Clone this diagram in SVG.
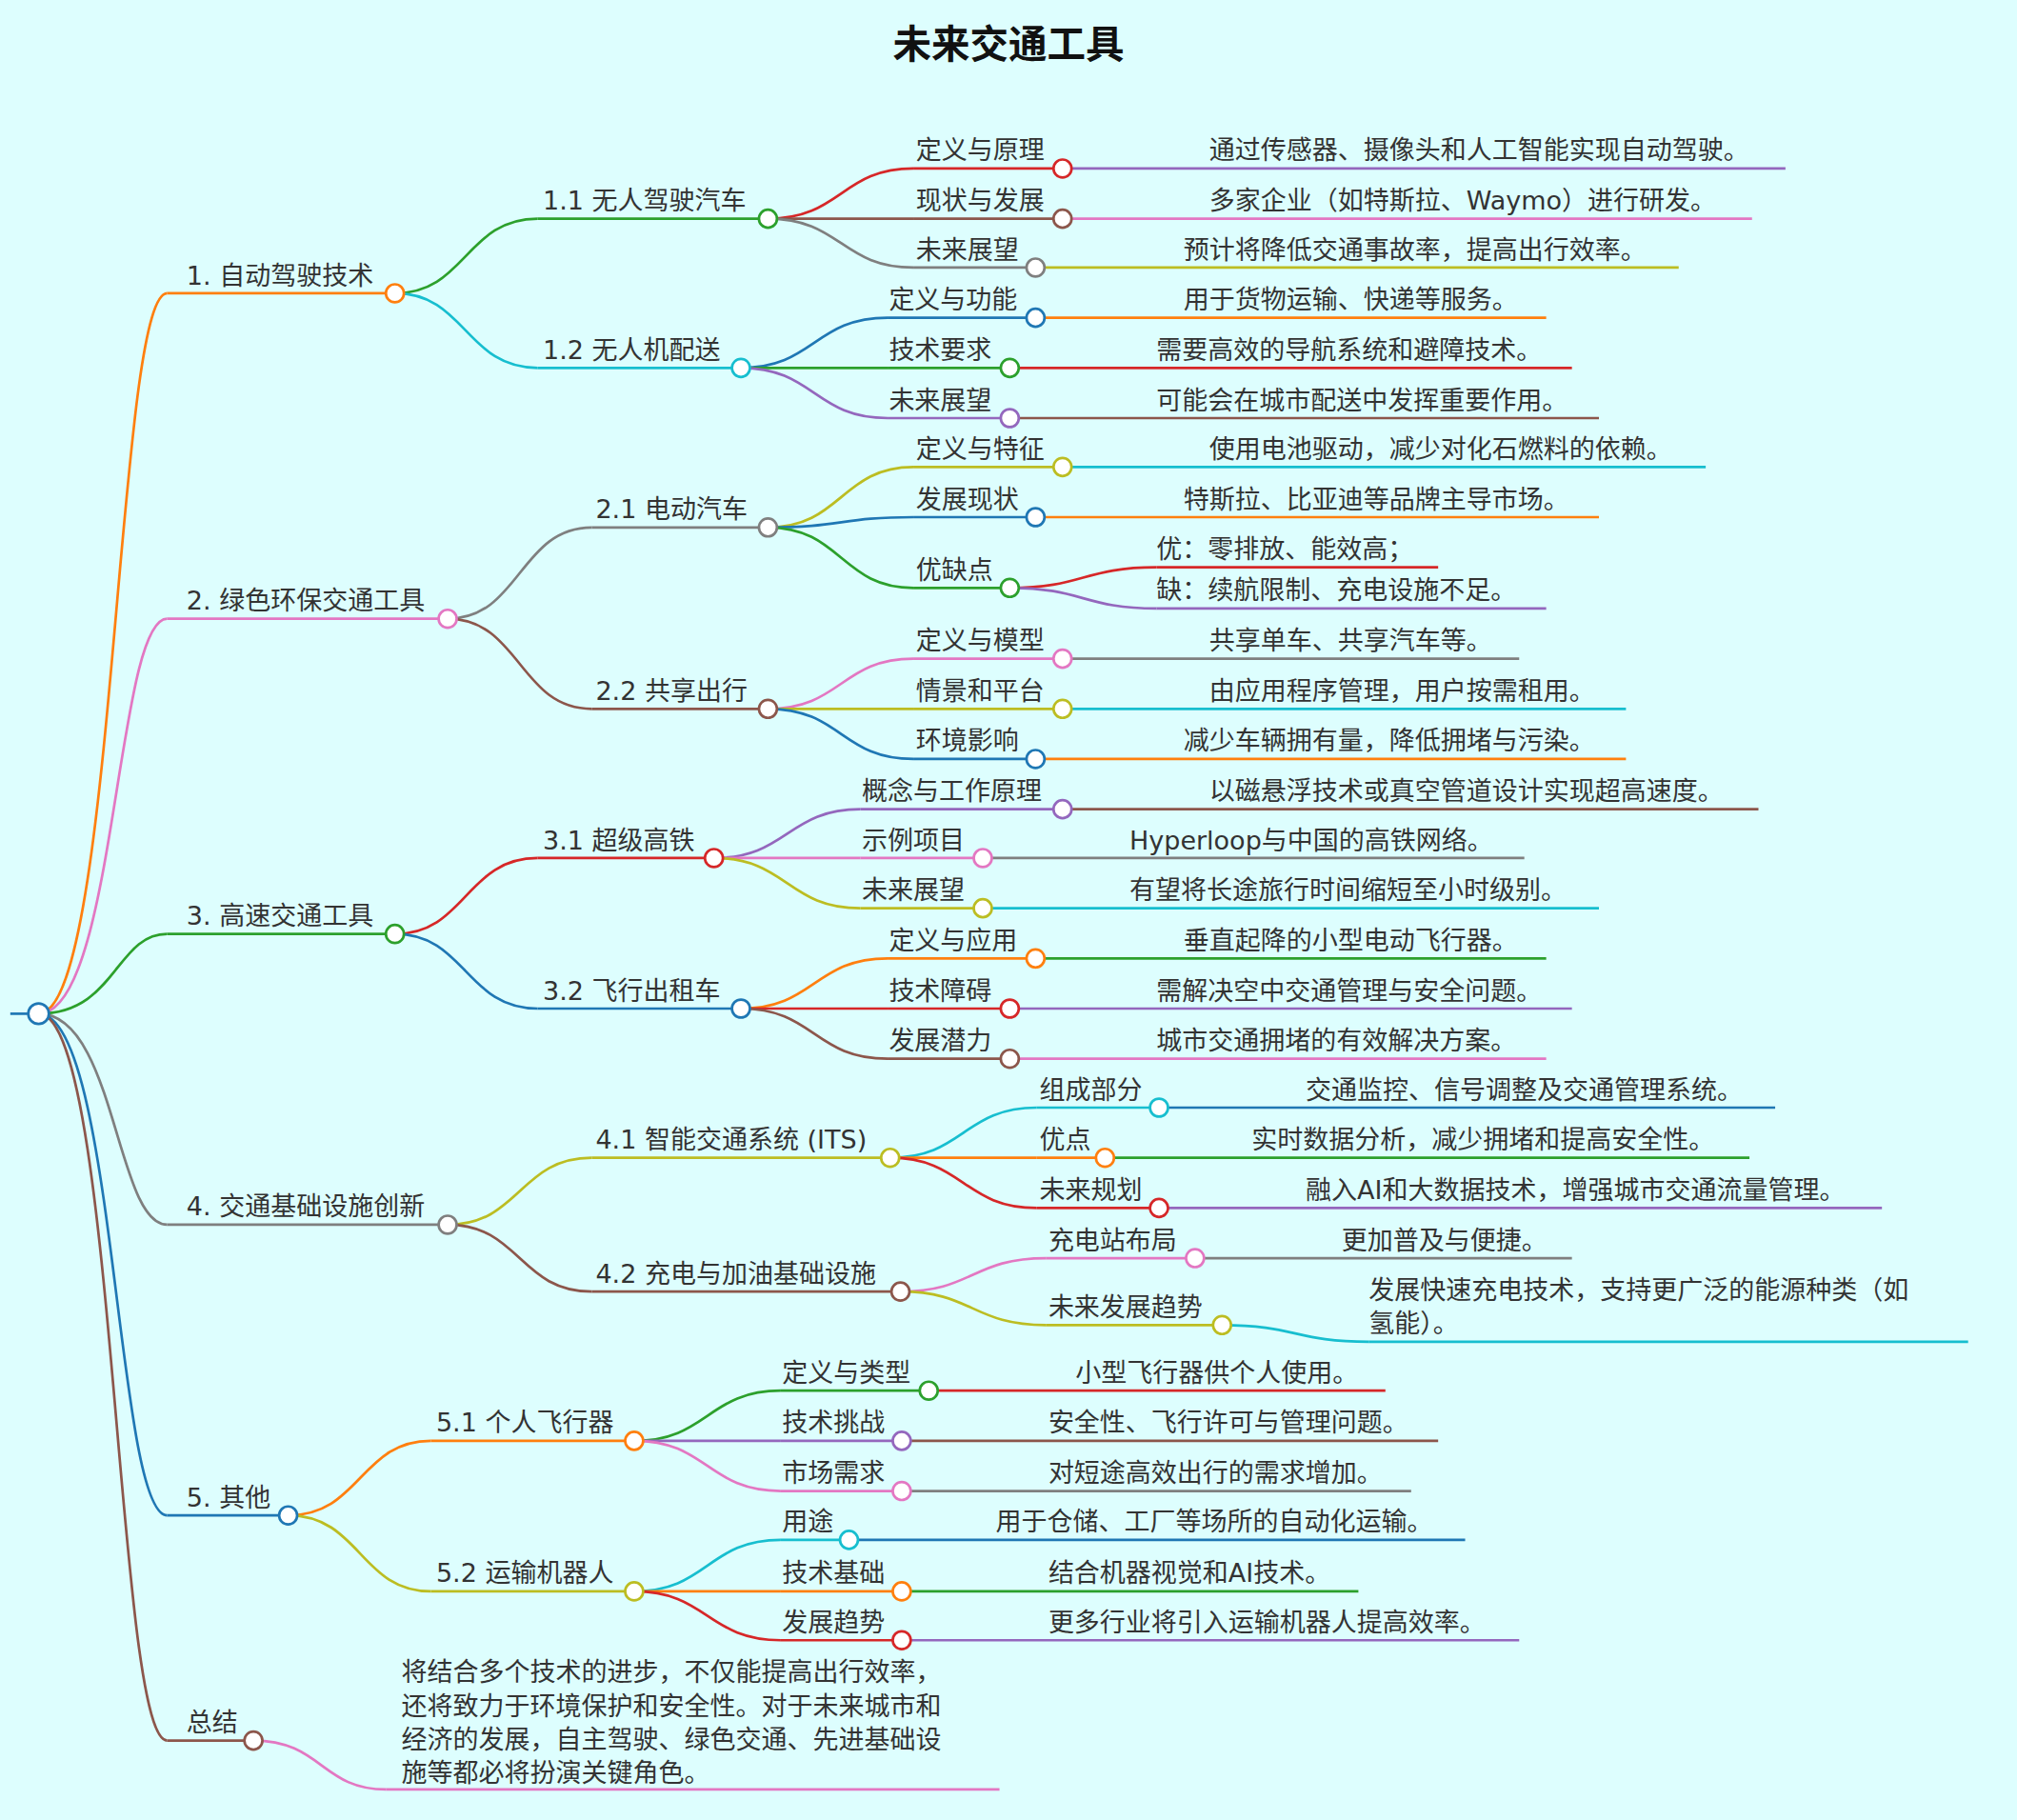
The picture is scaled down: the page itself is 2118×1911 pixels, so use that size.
<svg xmlns="http://www.w3.org/2000/svg" width="2118" height="1911" viewBox="0 0 2118 1911">
<style>
text{font-family:"DejaVu Sans","Noto Sans CJK SC",sans-serif;font-size:20px;fill:#333}
.ti{font-size:30px;font-weight:bold;fill:#111}
.c{fill:#fff;stroke-width:2}
path,line{fill:none;stroke-width:2}
</style>
<rect width="2118" height="1911" fill="#ddfefe"/>
<g transform="scale(1.35077)">
<text class="ti" x="784" y="45" text-anchor="middle">未来交通工具</text>
<g id="connectors">
<line x1="8" y1="788" x2="30" y2="788" stroke="#1f77b4"/>
<path d="M30 788 C90 788 90 228 130 228" stroke="#ff7f0e"/>
<path d="M30 788 C90 788 90 481 130 481" stroke="#e377c2"/>
<path d="M30 788 C90 788 90 726 130 726" stroke="#2ca02c"/>
<path d="M30 788 C90 788 90 952 130 952" stroke="#7f7f7f"/>
<path d="M30 788 C90 788 90 1178 130 1178" stroke="#1f77b4"/>
<path d="M30 788 C90 788 90 1353 130 1353" stroke="#8c564b"/>
<path d="M307 228 C362 228 362 170 418 170" stroke="#2ca02c"/>
<path d="M307 228 C362 228 362 286 418 286" stroke="#17becf"/>
<path d="M348 481 C404 481 404 410 460 410" stroke="#7f7f7f"/>
<path d="M348 481 C404 481 404 551 460 551" stroke="#8c564b"/>
<path d="M307 726 C362 726 362 667 418 667" stroke="#d62728"/>
<path d="M307 726 C362 726 362 784 418 784" stroke="#1f77b4"/>
<path d="M348 952 C404 952 404 900 460 900" stroke="#bcbd22"/>
<path d="M348 952 C404 952 404 1004 460 1004" stroke="#8c564b"/>
<path d="M224 1178 C280 1178 280 1120 335 1120" stroke="#ff7f0e"/>
<path d="M224 1178 C280 1178 280 1237 335 1237" stroke="#bcbd22"/>
<path d="M197 1353 C250 1353 250 1391 300 1391" stroke="#e377c2"/>
<path d="M597 170 C654 170 654 131 710 131" stroke="#d62728"/>
<path d="M597 170 L710 170" stroke="#8c564b"/>
<path d="M597 170 C654 170 654 208 710 208" stroke="#7f7f7f"/>
<path d="M576 286 C633 286 633 247 690 247" stroke="#1f77b4"/>
<path d="M576 286 L690 286" stroke="#2ca02c"/>
<path d="M576 286 C633 286 633 325 690 325" stroke="#9467bd"/>
<path d="M597 410 C654 410 654 363 710 363" stroke="#bcbd22"/>
<path d="M597 410 C654 410 654 402 710 402" stroke="#1f77b4"/>
<path d="M597 410 C654 410 654 457 710 457" stroke="#2ca02c"/>
<path d="M597 551 C654 551 654 512 710 512" stroke="#e377c2"/>
<path d="M597 551 L710 551" stroke="#bcbd22"/>
<path d="M597 551 C654 551 654 590 710 590" stroke="#1f77b4"/>
<path d="M555 667 C612 667 612 629 669 629" stroke="#9467bd"/>
<path d="M555 667 L669 667" stroke="#e377c2"/>
<path d="M555 667 C612 667 612 706 669 706" stroke="#bcbd22"/>
<path d="M576 784 C633 784 633 745 690 745" stroke="#ff7f0e"/>
<path d="M576 784 L690 784" stroke="#d62728"/>
<path d="M576 784 C633 784 633 823 690 823" stroke="#8c564b"/>
<path d="M692 900 C749 900 749 861 806 861" stroke="#17becf"/>
<path d="M692 900 L806 900" stroke="#ff7f0e"/>
<path d="M692 900 C749 900 749 939 806 939" stroke="#d62728"/>
<path d="M700 1004 C756 1004 756 978 813 978" stroke="#e377c2"/>
<path d="M700 1004 C756 1004 756 1030 813 1030" stroke="#bcbd22"/>
<path d="M493 1120 C550 1120 550 1081 607 1081" stroke="#2ca02c"/>
<path d="M493 1120 L607 1120" stroke="#9467bd"/>
<path d="M493 1120 C550 1120 550 1159 607 1159" stroke="#e377c2"/>
<path d="M493 1237 C550 1237 550 1197 607 1197" stroke="#17becf"/>
<path d="M493 1237 L607 1237" stroke="#ff7f0e"/>
<path d="M493 1237 C550 1237 550 1275 607 1275" stroke="#d62728"/>
<path d="M785 457 C842 457 842 441 899 441" stroke="#d62728"/>
<path d="M785 457 C842 457 842 473 899 473" stroke="#9467bd"/>
<path d="M950 1030 C1007 1030 1007 1043 1064 1043" stroke="#17becf"/>
</g>
<g id="n1"><line x1="130" y1="228" x2="307" y2="228" stroke="#ff7f0e"/><text x="145" y="221">1. 自动驾驶技术</text><circle class="c" cx="307" cy="228" r="7" stroke="#ff7f0e"/></g>
<g id="n2"><line x1="130" y1="481" x2="348" y2="481" stroke="#e377c2"/><text x="145" y="474">2. 绿色环保交通工具</text><circle class="c" cx="348" cy="481" r="7" stroke="#e377c2"/></g>
<g id="n3"><line x1="130" y1="726" x2="307" y2="726" stroke="#2ca02c"/><text x="145" y="719">3. 高速交通工具</text><circle class="c" cx="307" cy="726" r="7" stroke="#2ca02c"/></g>
<g id="n4"><line x1="130" y1="952" x2="348" y2="952" stroke="#7f7f7f"/><text x="145" y="945">4. 交通基础设施创新</text><circle class="c" cx="348" cy="952" r="7" stroke="#7f7f7f"/></g>
<g id="n5"><line x1="130" y1="1178" x2="224" y2="1178" stroke="#1f77b4"/><text x="145" y="1171">5. 其他</text><circle class="c" cx="224" cy="1178" r="7" stroke="#1f77b4"/></g>
<g id="n6"><line x1="130" y1="1353" x2="197" y2="1353" stroke="#8c564b"/><text x="145" y="1346">总结</text><circle class="c" cx="197" cy="1353" r="7" stroke="#8c564b"/></g>
<g id="n6a"><line x1="300" y1="1391" x2="777" y2="1391" stroke="#e377c2"/>
<text x="312" y="1307">将结合多个技术的进步，不仅能提高出行效率，</text>
<text x="312" y="1333">还将致力于环境保护和安全性。对于未来城市和</text>
<text x="312" y="1359">经济的发展，自主驾驶、绿色交通、先进基础设</text>
<text x="312" y="1385">施等都必将扮演关键角色。</text></g>
<g id="n11"><line x1="418" y1="170" x2="597" y2="170" stroke="#2ca02c"/><text x="422" y="163">1.1 无人驾驶汽车</text><circle class="c" cx="597" cy="170" r="7" stroke="#2ca02c"/></g>
<g id="n12"><line x1="418" y1="286" x2="576" y2="286" stroke="#17becf"/><text x="422" y="279">1.2 无人机配送</text><circle class="c" cx="576" cy="286" r="7" stroke="#17becf"/></g>
<g id="n21"><line x1="460" y1="410" x2="597" y2="410" stroke="#7f7f7f"/><text x="463" y="403">2.1 电动汽车</text><circle class="c" cx="597" cy="410" r="7" stroke="#7f7f7f"/></g>
<g id="n22"><line x1="460" y1="551" x2="597" y2="551" stroke="#8c564b"/><text x="463" y="544">2.2 共享出行</text><circle class="c" cx="597" cy="551" r="7" stroke="#8c564b"/></g>
<g id="n31"><line x1="418" y1="667" x2="555" y2="667" stroke="#d62728"/><text x="422" y="660">3.1 超级高铁</text><circle class="c" cx="555" cy="667" r="7" stroke="#d62728"/></g>
<g id="n32"><line x1="418" y1="784" x2="576" y2="784" stroke="#1f77b4"/><text x="422" y="777">3.2 飞行出租车</text><circle class="c" cx="576" cy="784" r="7" stroke="#1f77b4"/></g>
<g id="n41"><line x1="460" y1="900" x2="692" y2="900" stroke="#bcbd22"/><text x="463" y="893">4.1 智能交通系统 (ITS)</text><circle class="c" cx="692" cy="900" r="7" stroke="#bcbd22"/></g>
<g id="n42"><line x1="460" y1="1004" x2="700" y2="1004" stroke="#8c564b"/><text x="463" y="997">4.2 充电与加油基础设施</text><circle class="c" cx="700" cy="1004" r="7" stroke="#8c564b"/></g>
<g id="n51"><line x1="335" y1="1120" x2="493" y2="1120" stroke="#ff7f0e"/><text x="339" y="1113">5.1 个人飞行器</text><circle class="c" cx="493" cy="1120" r="7" stroke="#ff7f0e"/></g>
<g id="n52"><line x1="335" y1="1237" x2="493" y2="1237" stroke="#bcbd22"/><text x="339" y="1230">5.2 运输机器人</text><circle class="c" cx="493" cy="1237" r="7" stroke="#bcbd22"/></g>
<g id="n111"><line x1="710" y1="131" x2="826" y2="131" stroke="#d62728"/><line x1="826" y1="131" x2="1388" y2="131" stroke="#9467bd"/><text x="712" y="124">定义与原理</text><text x="940" y="124">通过传感器、摄像头和人工智能实现自动驾驶。</text><circle class="c" cx="826" cy="131" r="7" stroke="#d62728"/></g>
<g id="n112"><line x1="710" y1="170" x2="826" y2="170" stroke="#8c564b"/><line x1="826" y1="170" x2="1362" y2="170" stroke="#e377c2"/><text x="712" y="163">现状与发展</text><text x="940" y="163">多家企业（如特斯拉、Waymo）进行研发。</text><circle class="c" cx="826" cy="170" r="7" stroke="#8c564b"/></g>
<g id="n113"><line x1="710" y1="208" x2="805" y2="208" stroke="#7f7f7f"/><line x1="805" y1="208" x2="1305" y2="208" stroke="#bcbd22"/><text x="712" y="201">未来展望</text><text x="920" y="201">预计将降低交通事故率，提高出行效率。</text><circle class="c" cx="805" cy="208" r="7" stroke="#7f7f7f"/></g>
<g id="n121"><line x1="690" y1="247" x2="805" y2="247" stroke="#1f77b4"/><line x1="805" y1="247" x2="1202" y2="247" stroke="#ff7f0e"/><text x="691" y="240">定义与功能</text><text x="920" y="240">用于货物运输、快递等服务。</text><circle class="c" cx="805" cy="247" r="7" stroke="#1f77b4"/></g>
<g id="n122"><line x1="690" y1="286" x2="785" y2="286" stroke="#2ca02c"/><line x1="785" y1="286" x2="1222" y2="286" stroke="#d62728"/><text x="691" y="279">技术要求</text><text x="899" y="279">需要高效的导航系统和避障技术。</text><circle class="c" cx="785" cy="286" r="7" stroke="#2ca02c"/></g>
<g id="n123"><line x1="690" y1="325" x2="785" y2="325" stroke="#9467bd"/><line x1="785" y1="325" x2="1243" y2="325" stroke="#8c564b"/><text x="691" y="318">未来展望</text><text x="899" y="318">可能会在城市配送中发挥重要作用。</text><circle class="c" cx="785" cy="325" r="7" stroke="#9467bd"/></g>
<g id="n211"><line x1="710" y1="363" x2="826" y2="363" stroke="#bcbd22"/><line x1="826" y1="363" x2="1326" y2="363" stroke="#17becf"/><text x="712" y="356">定义与特征</text><text x="940" y="356">使用电池驱动，减少对化石燃料的依赖。</text><circle class="c" cx="826" cy="363" r="7" stroke="#bcbd22"/></g>
<g id="n212"><line x1="710" y1="402" x2="805" y2="402" stroke="#1f77b4"/><line x1="805" y1="402" x2="1243" y2="402" stroke="#ff7f0e"/><text x="712" y="395">发展现状</text><text x="920" y="395">特斯拉、比亚迪等品牌主导市场。</text><circle class="c" cx="805" cy="402" r="7" stroke="#1f77b4"/></g>
<g id="n213"><line x1="710" y1="457" x2="785" y2="457" stroke="#2ca02c"/><text x="712" y="450">优缺点</text><circle class="c" cx="785" cy="457" r="7" stroke="#2ca02c"/></g>
<g id="n213a"><line x1="899" y1="441" x2="1118" y2="441" stroke="#d62728"/><text x="899" y="434">优：零排放、能效高；</text></g>
<g id="n213b"><line x1="899" y1="473" x2="1202" y2="473" stroke="#9467bd"/><text x="899" y="466">缺：续航限制、充电设施不足。</text></g>
<g id="n221"><line x1="710" y1="512" x2="826" y2="512" stroke="#e377c2"/><line x1="826" y1="512" x2="1181" y2="512" stroke="#7f7f7f"/><text x="712" y="505">定义与模型</text><text x="940" y="505">共享单车、共享汽车等。</text><circle class="c" cx="826" cy="512" r="7" stroke="#e377c2"/></g>
<g id="n222"><line x1="710" y1="551" x2="826" y2="551" stroke="#bcbd22"/><line x1="826" y1="551" x2="1264" y2="551" stroke="#17becf"/><text x="712" y="544">情景和平台</text><text x="940" y="544">由应用程序管理，用户按需租用。</text><circle class="c" cx="826" cy="551" r="7" stroke="#bcbd22"/></g>
<g id="n223"><line x1="710" y1="590" x2="805" y2="590" stroke="#1f77b4"/><line x1="805" y1="590" x2="1264" y2="590" stroke="#ff7f0e"/><text x="712" y="583">环境影响</text><text x="920" y="583">减少车辆拥有量，降低拥堵与污染。</text><circle class="c" cx="805" cy="590" r="7" stroke="#1f77b4"/></g>
<g id="n311"><line x1="669" y1="629" x2="826" y2="629" stroke="#9467bd"/><line x1="826" y1="629" x2="1367" y2="629" stroke="#8c564b"/><text x="670" y="622">概念与工作原理</text><text x="940" y="622">以磁悬浮技术或真空管道设计实现超高速度。</text><circle class="c" cx="826" cy="629" r="7" stroke="#9467bd"/></g>
<g id="n312"><line x1="669" y1="667" x2="764" y2="667" stroke="#e377c2"/><line x1="764" y1="667" x2="1185" y2="667" stroke="#7f7f7f"/><text x="670" y="660">示例项目</text><text x="878" y="660">Hyperloop与中国的高铁网络。</text><circle class="c" cx="764" cy="667" r="7" stroke="#e377c2"/></g>
<g id="n313"><line x1="669" y1="706" x2="764" y2="706" stroke="#bcbd22"/><line x1="764" y1="706" x2="1243" y2="706" stroke="#17becf"/><text x="670" y="699">未来展望</text><text x="878" y="699">有望将长途旅行时间缩短至小时级别。</text><circle class="c" cx="764" cy="706" r="7" stroke="#bcbd22"/></g>
<g id="n321"><line x1="690" y1="745" x2="805" y2="745" stroke="#ff7f0e"/><line x1="805" y1="745" x2="1202" y2="745" stroke="#2ca02c"/><text x="691" y="738">定义与应用</text><text x="920" y="738">垂直起降的小型电动飞行器。</text><circle class="c" cx="805" cy="745" r="7" stroke="#ff7f0e"/></g>
<g id="n322"><line x1="690" y1="784" x2="785" y2="784" stroke="#d62728"/><line x1="785" y1="784" x2="1222" y2="784" stroke="#9467bd"/><text x="691" y="777">技术障碍</text><text x="899" y="777">需解决空中交通管理与安全问题。</text><circle class="c" cx="785" cy="784" r="7" stroke="#d62728"/></g>
<g id="n323"><line x1="690" y1="823" x2="785" y2="823" stroke="#8c564b"/><line x1="785" y1="823" x2="1202" y2="823" stroke="#e377c2"/><text x="691" y="816">发展潜力</text><text x="899" y="816">城市交通拥堵的有效解决方案。</text><circle class="c" cx="785" cy="823" r="7" stroke="#8c564b"/></g>
<g id="n411"><line x1="806" y1="861" x2="901" y2="861" stroke="#17becf"/><line x1="901" y1="861" x2="1380" y2="861" stroke="#1f77b4"/><text x="808" y="854">组成部分</text><text x="1015" y="854">交通监控、信号调整及交通管理系统。</text><circle class="c" cx="901" cy="861" r="7" stroke="#17becf"/></g>
<g id="n412"><line x1="806" y1="900" x2="859" y2="900" stroke="#ff7f0e"/><line x1="859" y1="900" x2="1360" y2="900" stroke="#2ca02c"/><text x="808" y="893">优点</text><text x="973" y="893">实时数据分析，减少拥堵和提高安全性。</text><circle class="c" cx="859" cy="900" r="7" stroke="#ff7f0e"/></g>
<g id="n413"><line x1="806" y1="939" x2="901" y2="939" stroke="#d62728"/><line x1="901" y1="939" x2="1463" y2="939" stroke="#9467bd"/><text x="808" y="932">未来规划</text><text x="1015" y="932">融入AI和大数据技术，增强城市交通流量管理。</text><circle class="c" cx="901" cy="939" r="7" stroke="#d62728"/></g>
<g id="n421"><line x1="813" y1="978" x2="929" y2="978" stroke="#e377c2"/><line x1="929" y1="978" x2="1222" y2="978" stroke="#7f7f7f"/><text x="815" y="971">充电站布局</text><text x="1043" y="971">更加普及与便捷。</text><circle class="c" cx="929" cy="978" r="7" stroke="#e377c2"/></g>
<g id="n422"><line x1="813" y1="1030" x2="950" y2="1030" stroke="#bcbd22"/><text x="815" y="1023">未来发展趋势</text><circle class="c" cx="950" cy="1030" r="7" stroke="#bcbd22"/></g>
<g id="n422a"><line x1="1064" y1="1043" x2="1530" y2="1043" stroke="#17becf"/><text x="1064" y="1010">发展快速充电技术，支持更广泛的能源种类（如</text><text x="1064" y="1036">氢能）。</text></g>
<g id="n511"><line x1="607" y1="1081" x2="722" y2="1081" stroke="#2ca02c"/><line x1="722" y1="1081" x2="1077" y2="1081" stroke="#d62728"/><text x="608" y="1074">定义与类型</text><text x="836" y="1074">小型飞行器供个人使用。</text><circle class="c" cx="722" cy="1081" r="7" stroke="#2ca02c"/></g>
<g id="n512"><line x1="607" y1="1120" x2="701" y2="1120" stroke="#9467bd"/><line x1="701" y1="1120" x2="1118" y2="1120" stroke="#8c564b"/><text x="608" y="1113">技术挑战</text><text x="815" y="1113">安全性、飞行许可与管理问题。</text><circle class="c" cx="701" cy="1120" r="7" stroke="#9467bd"/></g>
<g id="n513"><line x1="607" y1="1159" x2="701" y2="1159" stroke="#e377c2"/><line x1="701" y1="1159" x2="1097" y2="1159" stroke="#7f7f7f"/><text x="608" y="1152">市场需求</text><text x="815" y="1152">对短途高效出行的需求增加。</text><circle class="c" cx="701" cy="1159" r="7" stroke="#e377c2"/></g>
<g id="n521"><line x1="607" y1="1197" x2="660" y2="1197" stroke="#17becf"/><line x1="660" y1="1197" x2="1139" y2="1197" stroke="#1f77b4"/><text x="608" y="1190">用途</text><text x="774" y="1190">用于仓储、工厂等场所的自动化运输。</text><circle class="c" cx="660" cy="1197" r="7" stroke="#17becf"/></g>
<g id="n522"><line x1="607" y1="1237" x2="701" y2="1237" stroke="#ff7f0e"/><line x1="701" y1="1237" x2="1056" y2="1237" stroke="#2ca02c"/><text x="608" y="1230">技术基础</text><text x="815" y="1230">结合机器视觉和AI技术。</text><circle class="c" cx="701" cy="1237" r="7" stroke="#ff7f0e"/></g>
<g id="n523"><line x1="607" y1="1275" x2="701" y2="1275" stroke="#d62728"/><line x1="701" y1="1275" x2="1181" y2="1275" stroke="#9467bd"/><text x="608" y="1268">发展趋势</text><text x="815" y="1268">更多行业将引入运输机器人提高效率。</text><circle class="c" cx="701" cy="1275" r="7" stroke="#d62728"/></g>
<g id="root"><circle class="c" cx="30" cy="788" r="8" stroke="#1f77b4"/></g>
</g>
</svg>
